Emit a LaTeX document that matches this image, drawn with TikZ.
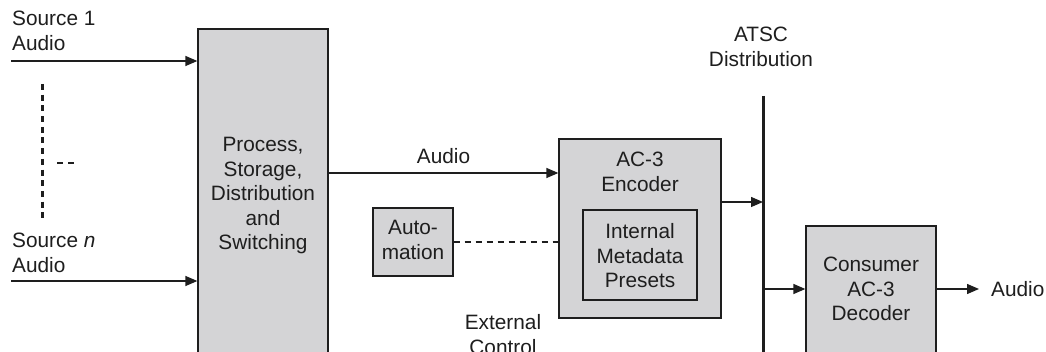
\documentclass[tikz,border=0pt]{standalone}
\usepackage{fontspec}
\setmainfont{Liberation Sans}
\usetikzlibrary{arrows.meta}
\definecolor{boxgray}{RGB}{212,212,214}
\definecolor{ink}{RGB}{30,30,30}
\tikzset{
  txt/.style={font=\fontsize{20.8}{24.5}\selectfont, text=ink, align=center, inner sep=0pt},
  txtl/.style={txt, align=left, anchor=west},
  block/.style={draw=ink, line width=1.3pt, fill=boxgray, inner sep=0pt},
  inner/.style={draw=ink, line width=1.3pt, fill=boxgray, inner sep=0pt},
  flow/.style={draw=ink, line width=1.3pt, -{Triangle[length=12pt,width=10pt]}},
  ctrl/.style={draw=ink, line width=1.1pt, dash pattern=on 6pt off 5pt},
  bus/.style={draw=ink, line width=3pt},
}
\begin{document}
\begin{tikzpicture}[x=1pt,y=-1pt]
\clip (0,0) rectangle (1046,352);
\fill[white] (0,0) rectangle (1046,352);

% sources
\node[txtl] (s1) at (12,31) {Source 1\\Audio};
\node[txtl] (sn) at (12,253) {Source \textit{n}\\Audio};
\coordinate (s1in) at (11,61);
\coordinate (snin) at (11,281);

% gap between the sources
\coordinate (dtop) at (42,84);
\coordinate (dbot) at (42,222);
\draw[ink, line width=3pt, dash pattern=on 6pt off 4.7pt] (dtop) -- (dbot);
\coordinate (ha) at (57,163);
\coordinate (hb) at (74,163);
\draw[ink, line width=2.2pt, dash pattern=on 6pt off 5pt] (ha) -- (hb);

% processing block
\node[block, minimum width=130pt, minimum height=336pt] (proc) at (263,197) {};
\node[txt] (proctxt) at (263,196) {Process,\\Storage,\\Distribution\\and\\Switching};
\draw[flow] (s1in) -- (s1in -| proc.west);
\draw[flow] (snin) -- (snin -| proc.west);

% encoder
\node[block, minimum width=162pt, minimum height=179pt] (enc) at (640,228.5) {};
\node[txt] (enctxt) at (640,172) {AC-3\\Encoder};
\node[inner, minimum width=114pt, minimum height=90pt] (pre) at (640,255) {};
\node[txt] (pretxt) at (640,256) {Internal\\Metadata\\Presets};
\draw[flow] (proc.east |- 0,173) -- node[txt, above=9pt] (alab) {Audio} (enc.west |- 0,173);

% automation and external control
\node[block, minimum width=80pt, minimum height=68pt] (auto) at (413,242) {};
\node[txt] (autotxt) at (413,240) {Auto-\\mation};
\draw[ctrl] (auto.east) -- (enc.west |- auto.east);
\node[txt] (ext) at (503,334.5) {External\\Control};

% distribution bus
\node[txt] (atsc) at (761,47) {ATSC\\Distribution};
\coordinate (btop) at (763,96);
\coordinate (bbot) at (763,360);
\draw[bus] (btop) -- (bbot);
\draw[flow] (enc.east |- 0,202) -- (btop |- 0,202);

% decoder
\node[block, minimum width=130pt, minimum height=140pt] (dec) at (871,296) {};
\node[txt] (dectxt) at (871,289) {Consumer\\AC-3\\Decoder};
\draw[flow] (btop |- 0,289) -- (dec.west |- 0,289);
\node[txtl] (aout) at (991,289) {Audio};
\draw[flow] (dec.east |- aout.west) -- ([xshift=-12pt]aout.west);
\end{tikzpicture}
\end{document}
